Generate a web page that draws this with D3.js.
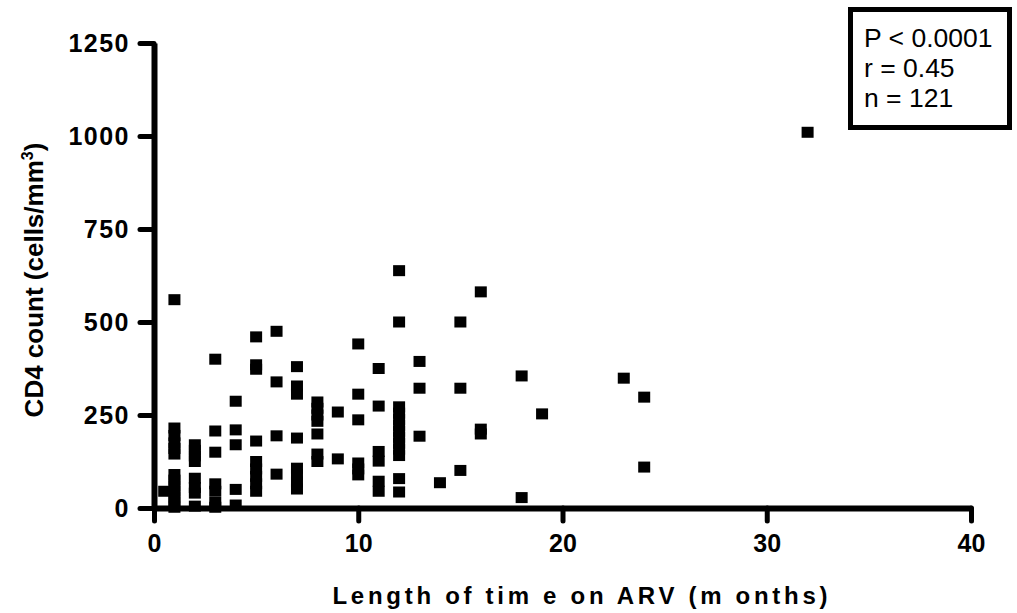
<!DOCTYPE html>
<html>
<head>
<meta charset="utf-8">
<script src="https://cdn.jsdelivr.net/npm/d3@7"></script>
<style>
    body { margin: 0; background: #fff; }
    svg { display: block; font-family: "Liberation Sans", Arial, sans-serif; }
</style>
</head>
<body>
<div id="chart"></div>
<script>
// Months on ARV and CD4 counts (cells/mm3)
const months = [
    0.5,
    1, 1, 1, 1, 1, 1, 1, 1, 1, 1, 1, 1, 1,
    2, 2, 2, 2, 2, 2, 2, 2,
    3, 3, 3, 3, 3, 3, 3,
    4, 4, 4, 4, 4,
    5, 5, 5, 5, 5, 5, 5, 5, 5,
    6, 6, 6, 6,
    7, 7, 7, 7, 7, 7, 7, 7,
    8, 8, 8, 8, 8, 8, 8,
    9, 9,
    10, 10, 10, 10, 10, 10,
    11, 11, 11, 11, 11, 11,
    12, 12, 12, 12, 12, 12, 12, 12, 12, 12, 12, 12, 12,
    13, 13, 13,
    14,
    15, 15, 15,
    16, 16, 16,
    18, 18,
    19,
    23,
    24, 24,
    32
];
const cd4Counts = [
    45,
    560, 215, 195, 175, 160, 145, 90, 75, 60, 45, 30, 15, 2,
    170, 155, 140, 125, 80, 55, 40, 5,
    400, 207, 150, 65, 45, 15, 2,
    287, 210, 170, 50, 8,
    460, 385, 373, 180, 125, 105, 85, 65, 45,
    475, 339, 194, 91,
    380, 328, 306, 188, 107, 90, 70, 51,
    285, 268, 250, 233, 199, 145, 125,
    258, 132,
    441, 306, 237, 121, 105, 89,
    375, 274, 152, 126, 72, 45,
    638, 500, 272, 255, 238, 222, 206, 190, 174, 158, 141, 79, 43,
    394, 322, 193,
    68,
    500, 322, 101,
    581, 212, 199,
    355, 28,
    253,
    349,
    298, 110,
    1010
];
const xTicks = [0, 10, 20, 30, 40];
const yTicks = [0, 250, 500, 750, 1000, 1250];
const statsLines = ["P < 0.0001", "r = 0.45", "n = 121"];

const width = 1017, height = 613;

const svg = d3.select("#chart")
    .append("svg")
    .attr("width", width)
    .attr("height", height);

const x = d3.scaleLinear().domain([0, 40]).range([154, 971]);
const y = d3.scaleLinear().domain([0, 1250]).range([508, 43]);

// X axis
const xAxis = svg.append("g")
    .attr("transform", `translate(0,${y(0)})`)
    .call(d3.axisBottom(x).tickValues(xTicks).tickFormat(d3.format("d"))
        .tickSize(13).tickSizeOuter(0).tickPadding(13));
xAxis.select(".domain").attr("stroke", "#000").attr("stroke-width", 6);
xAxis.selectAll(".tick line").attr("stroke", "#000").attr("stroke-width", 5).attr("stroke-linecap", "round");
xAxis.selectAll(".tick text")
    .attr("font-size", "25px")
    .attr("font-weight", "bold")
    .attr("font-family", "Liberation Sans, Arial, sans-serif")
    .attr("fill", "#000");

// Y axis
const yAxis = svg.append("g")
    .attr("transform", `translate(${x(0)},0)`)
    .call(d3.axisLeft(y).tickValues(yTicks).tickFormat(d3.format("d"))
        .tickSize(14).tickSizeOuter(0).tickPadding(10));
yAxis.select(".domain").attr("stroke", "#000").attr("stroke-width", 6);
yAxis.selectAll(".tick line").attr("stroke", "#000").attr("stroke-width", 5).attr("stroke-linecap", "round");
yAxis.selectAll(".tick text")
    .attr("font-size", "25px")
    .attr("font-weight", "bold")
    .attr("letter-spacing", "1.5px")
    .attr("font-family", "Liberation Sans, Arial, sans-serif")
    .attr("fill", "#000");

// Points
const points = months.map((m, i) => ({ m, v: cd4Counts[i] }));
svg.append("g")
    .selectAll("rect")
    .data(points)
    .enter()
    .append("rect")
    .attr("x", d => x(d.m) - 6)
    .attr("y", d => y(d.v) - 5.5)
    .attr("width", 12)
    .attr("height", 11)
    .attr("fill", "#000");

// Axis titles
svg.append("text")
    .attr("x", 580)
    .attr("y", 604)
    .attr("text-anchor", "middle")
    .attr("font-size", "24px")
    .attr("font-weight", "bold")
    .attr("textLength", 495)
    .attr("lengthAdjust", "spacing")
    .text("Length of tim e on ARV (m onths)");

const yTitle = svg.append("text")
    .attr("transform", "translate(43,280) rotate(-90)")
    .attr("text-anchor", "middle")
    .attr("font-size", "26px")
    .attr("font-weight", "bold");
yTitle.append("tspan").text("CD4 count (cells/mm");
yTitle.append("tspan").attr("font-size", "16px").attr("dy", "-10").text("3");
yTitle.append("tspan").attr("dy", "10").text(")");

// Stats box
svg.append("rect")
    .attr("x", 850.5)
    .attr("y", 9.5)
    .attr("width", 159)
    .attr("height", 118)
    .attr("fill", "#fff")
    .attr("stroke", "#000")
    .attr("stroke-width", 5);

svg.append("g")
    .selectAll("text")
    .data(statsLines)
    .enter()
    .append("text")
    .attr("x", 864)
    .attr("y", (d, i) => 47 + i * 30)
    .attr("font-size", "26.5px")
    .attr("fill", "#000")
    .text(d => d);
</script>
</body>
</html>
